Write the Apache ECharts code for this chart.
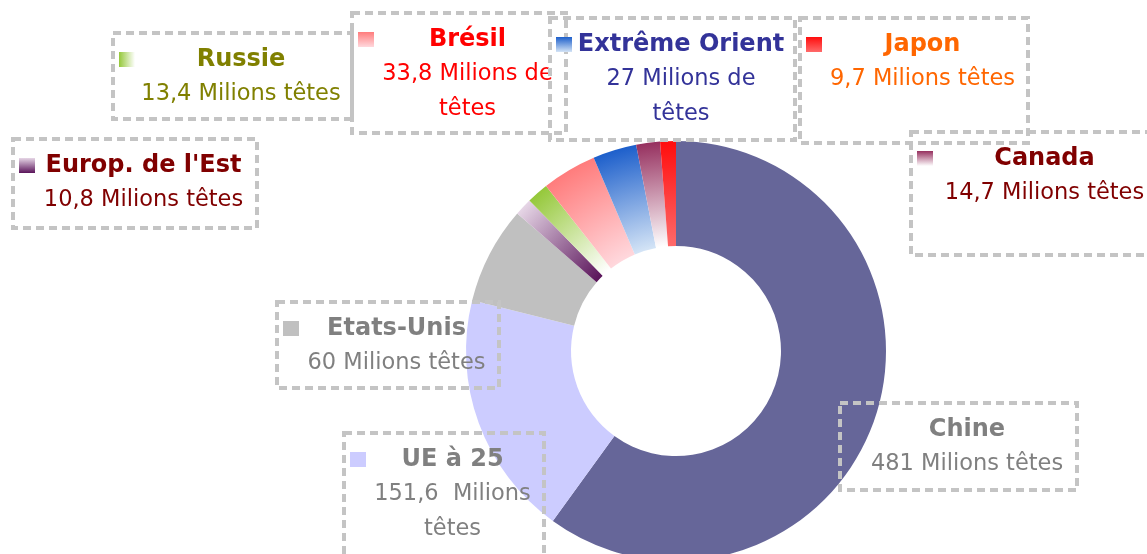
<!DOCTYPE html>
<html>
<head>
<meta charset="utf-8">
<script src="https://cdn.jsdelivr.net/npm/echarts@6/dist/echarts.min.js"></script>
<style>
  html, body { margin: 0; padding: 0; background: #ffffff; }
  #chart { width: 1147px; height: 554px; }
</style>
</head>
<body>
<div id="chart"></div>
<script>
// Cheptel bovin par région (millions de têtes)
const regions = ['Chine', 'UE à 25', 'Etats-Unis', "Europ. de l'Est", 'Russie', 'Brésil', 'Extrême Orient', 'Canada', 'Japon'];
const herds = [481, 151.6, 60, 10.8, 13.4, 33.8, 27, 14.7, 9.7];
const unitText = [' Milions têtes', '  Milions\ntêtes', ' Milions têtes', ' Milions têtes', ' Milions têtes',
                  ' Milions de\ntêtes', ' Milions de\ntêtes', ' Milions têtes', ' Milions têtes'];

// Slice shading: colour at the outer rim and at the hole
const outerColors = ['#666699', '#ccccff', '#c0c0c0', '#e6d6e6', '#95c83a', '#ff7c7c', '#1d5fcb', '#96305f', '#ff0d0d'];
const innerColors = ['#666699', '#ccccff', '#c0c0c0', '#5a145a', '#ffffff', '#ffd8dd', '#d4e4f6', '#ffffff', '#ff6a6a'];
const iconHorizontal = [false, false, false, false, true, false, false, false, false];
const textColors = ['#808080', '#808080', '#808080', '#800000', '#808000', '#ff0000', '#333399', '#800000', '#ff6600'];

// Label boxes: left, top, width, height
const boxes = [
  [840, 403, 237, 87],
  [344, 433, 200, 140],
  [277, 302, 222, 86],
  [13, 139, 244, 89],
  [113, 33, 239, 86],
  [352, 13, 214, 120],
  [550, 18, 245, 122],
  [911, 132, 250, 123],
  [800, 18, 228, 125]
];

const CX = 676, CY = 351, R_IN = 105, R_OUT = 210;
const PAD = [9, 5, 0, 6];
const FONT = 'DejaVu Sans';

function ringFill(i) {
  if (outerColors[i] === innerColors[i]) return outerColors[i];
  return {
    type: 'radial', x: CX, y: CY, r: R_OUT, global: true,
    colorStops: [
      { offset: 0, color: innerColors[i] },
      { offset: R_IN / R_OUT, color: innerColors[i] },
      { offset: 1, color: outerColors[i] }
    ]
  };
}

function iconFill(i) {
  if (outerColors[i] === innerColors[i]) return outerColors[i];
  return new echarts.graphic.LinearGradient(0, 0, iconHorizontal[i] ? 1 : 0, iconHorizontal[i] ? 0 : 1, [
    { offset: 0, color: outerColors[i] },
    { offset: 1, color: innerColors[i] }
  ]);
}

const data = regions.map((name, i) => ({
  name: name,
  value: herds[i],
  itemStyle: { color: ringFill(i) },
  label: {
    width: boxes[i][2] - PAD[1] - PAD[3],
    height: boxes[i][3] - PAD[0] - PAD[2],
    rich: {
      ic: { width: 16, height: 15, backgroundColor: iconFill(i), align: 'left' },
      sp: { width: 16, align: 'left' },
      t: { fontFamily: FONT, fontSize: 24, fontWeight: 'bold', color: textColors[i], lineHeight: 35, align: 'center' },
      v: { fontFamily: FONT, fontSize: 22.5, color: textColors[i], lineHeight: 35, align: 'center' }
    }
  }
}));

const chart = echarts.init(document.getElementById('chart'), null, { renderer: 'canvas' });
chart.setOption({
  backgroundColor: '#ffffff',
  animation: false,
  series: [{
    type: 'pie',
    center: [CX, CY],
    radius: [R_IN, R_OUT],
    startAngle: 90,
    clockwise: true,
    avoidLabelOverlap: false,
    silent: true,
    itemStyle: { borderWidth: 0 },
    emphasis: { disabled: true },
    labelLine: { show: false },
    label: {
      show: true,
      position: 'outside',
      padding: PAD,
      borderColor: '#c4c4c4',
      borderWidth: 2,
      borderType: [8, 5],
      backgroundColor: 'transparent',
      formatter: p => {
        const txt = String(p.value).replace('.', ',') + unitText[p.dataIndex];
        const lines = txt.split('\n').map(l => '{sp|}{v|' + l + '}');
        return ['{ic|}{t|' + p.name + '}'].concat(lines).join('\n');
      }
    },
    labelLayout: p => {
      const b = boxes[p.dataIndex];
      return { x: b[0], y: b[1], align: 'left', verticalAlign: 'top', hideOverlap: false };
    },
    data: data
  }]
});
</script>
</body>
</html>
